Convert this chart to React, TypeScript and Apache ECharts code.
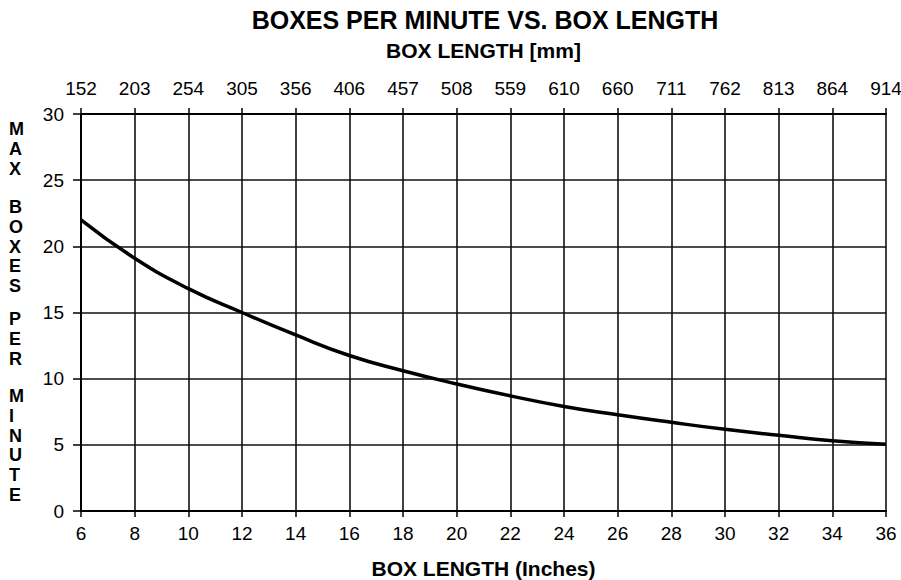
import React, { useEffect, useRef } from "react";
import * as echarts from "echarts";

const inches = [6, 8, 10, 12, 14, 16, 18, 20, 22, 24, 26, 28, 30, 32, 34, 36];
const mmLabels = ["152", "203", "254", "305", "356", "406", "457", "508", "559", "610", "660", "711", "762", "813", "864", "914"];
const boxesPerMinute = [22, 19.1, 16.8, 15.0, 13.3, 11.75, 10.6, 9.6, 8.7, 7.9, 7.27, 6.7, 6.17, 5.72, 5.3, 5.05];
const yWords = ["MAX", "BOXES", "PER", "MINUTE"];
const yWordTops = [119, 197, 309, 386];

const FONT = "'Liberation Sans', Arial, Helvetica, sans-serif";

export default function App() {
  const ref = useRef<HTMLDivElement>(null);
  useEffect(() => {
    if (!ref.current) return;
    const chart = echarts.init(ref.current, undefined, { renderer: "svg" });
    const axisLabelStyle = { color: "#000", fontSize: 19, fontFamily: FONT };
    const nameStyle = { color: "#000", fontSize: 21, fontWeight: "bold", fontFamily: FONT };
    chart.setOption({
      animation: false,
      backgroundColor: "#fff",
      title: {
        text: "BOXES PER MINUTE VS. BOX LENGTH",
        left: 480,
        top: 2,
        textAlign: "center",
        textStyle: { color: "#000", fontSize: 25, fontWeight: "bold", fontFamily: FONT },
      },
      grid: { left: 81, right: 15, top: 114, bottom: 69, containLabel: false, outerBoundsMode: "none" },
      xAxis: [
        {
          type: "value",
          min: 6,
          max: 36,
          interval: 2,
          position: "bottom",
          name: "BOX LENGTH (Inches)",
          nameLocation: "middle",
          nameGap: 47,
          nameTextStyle: nameStyle,
          axisLine: { show: true, lineStyle: { color: "#000", width: 2 } },
          axisTick: { show: true, length: 6, lineStyle: { color: "#000", width: 1.5 } },
          axisLabel: { ...axisLabelStyle, margin: 13 },
          splitLine: { show: true, lineStyle: { color: "#111", width: 1.6 } },
        },
        {
          type: "value",
          min: 6,
          max: 36,
          interval: 2,
          position: "top",
          name: "BOX LENGTH [mm]",
          nameLocation: "middle",
          nameGap: 53,
          nameTextStyle: nameStyle,
          axisLine: { show: true, lineStyle: { color: "#000", width: 2 } },
          axisTick: { show: true, length: 6, lineStyle: { color: "#000", width: 1.5 } },
          axisLabel: {
            ...axisLabelStyle,
            margin: 16,
            formatter: (v: number) => mmLabels[Math.round((v - 6) / 2)] ?? "",
          },
          splitLine: { show: false },
        },
      ],
      yAxis: {
        type: "value",
        min: 0,
        max: 30,
        interval: 5,
        axisLine: { show: true, lineStyle: { color: "#000", width: 2 } },
        axisTick: { show: true, length: 8, lineStyle: { color: "#000", width: 1.5 } },
        axisLabel: { ...axisLabelStyle, margin: 17 },
        splitLine: { show: true, lineStyle: { color: "#111", width: 1.6 } },
      },
      graphic: yWords.map((w, i) => ({
        type: "text",
        left: 9,
        top: yWordTops[i],
        style: {
          text: w.split("").join("\n"),
          fill: "#000",
          font: `bold 18px ${FONT}`,
          lineHeight: 19.8,
          align: "center",
          width: 20,
        },
      })),
      series: [
        {
          type: "line",
          xAxisIndex: 0,
          data: inches.map((x, i) => [x, boxesPerMinute[i]]),
          smooth: true,
          showSymbol: false,
          lineStyle: { color: "#000", width: 3.5 },
        },
      ],
    });
    return () => chart.dispose();
  }, []);
  return <div ref={ref} style={{ width: 901, height: 580, position: "absolute", left: 0, top: 0 }} />;
}
